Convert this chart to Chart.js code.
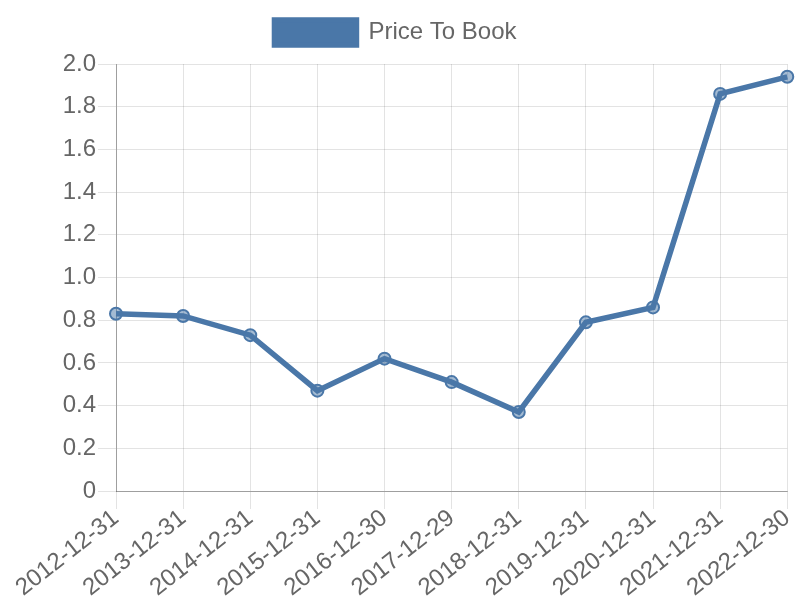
<!DOCTYPE html>
<html>
<head>
<meta charset="utf-8">
<script src="https://cdn.jsdelivr.net/npm/chart.js@4/dist/chart.umd.min.js"></script>
<style>
html,body{margin:0;padding:0;background:#fff;}
#wrap{width:800px;height:600px;}
</style>
</head>
<body>
<div id="wrap"><canvas id="c" width="800" height="600"></canvas></div>
<script>
const categories = ["2012-12-31","2013-12-31","2014-12-31","2015-12-31","2016-12-30","2017-12-29","2018-12-31","2019-12-31","2020-12-31","2021-12-31","2022-12-30"];
const priceToBook = [0.83,0.82,0.73,0.47,0.62,0.51,0.37,0.79,0.86,1.86,1.94];
const seriesLabel = "Price To Book";
const yTicks = [0,0.2,0.4,0.6,0.8,1.0,1.2,1.4,1.6,1.8,2.0];

const color = "#4a77a8";
const fam = "'Liberation Sans', Arial, sans-serif";
const legendExtra = {
  id: 'legendExtra',
  beforeInit(chart) {
    const lg = chart.legend;
    if (lg) {
      const orig = lg.fit.bind(lg);
      lg.fit = function () { orig(); this.height += 9; };
    }
  }
};
new Chart(document.getElementById('c'), {
  type: 'line',
  data: {
    labels: categories,
    datasets: [{
      label: seriesLabel,
      data: priceToBook,
      borderColor: color,
      backgroundColor: color,
      borderWidth: 5.5,
      pointRadius: 6,
      pointBorderWidth: 2,
      pointBackgroundColor: 'rgba(74,119,168,0.5)',
      pointBorderColor: color,
      tension: 0,
      fill: false
    }]
  },
  plugins: [legendExtra],
  options: {
    responsive: false,
    animation: false,
    devicePixelRatio: 1,
    layout: { padding: { right: 9, left: 0, bottom: 0 } },
    plugins: {
      legend: {
        labels: {
          font: { family: fam, size: 24 },
          color: '#666',
          boxWidth: 82,
          boxHeight: 25,
          padding: 20
        }
      },
      tooltip: { enabled: false }
    },
    scales: {
      x: {
        offset: false,
        afterFit: (s) => { s.height = 109; },
        grid: { color: 'rgba(0,0,0,0.11)', tickLength: 18 },
        border: { color: 'rgba(0,0,0,0.3)' },
        ticks: {
          font: { family: fam, size: 24 },
          color: '#666',
          maxRotation: 38,
          minRotation: 38,
          autoSkip: false,
          padding: -5
        }
      },
      y: {
        min: 0, max: 2.0,
        afterBuildTicks: (axis) => { axis.ticks = yTicks.map(v => ({ value: v })); },
        afterFit: (s) => { s.width = 116; },
        grid: { color: 'rgba(0,0,0,0.11)', tickLength: 18 },
        border: { color: 'rgba(0,0,0,0.3)' },
        ticks: {
          font: { family: fam, size: 24 },
          color: '#666',
          padding: 2,
          callback: (v) => v === 0 ? '0' : Number(v).toFixed(1)
        }
      }
    }
  }
});
</script>
</body>
</html>
